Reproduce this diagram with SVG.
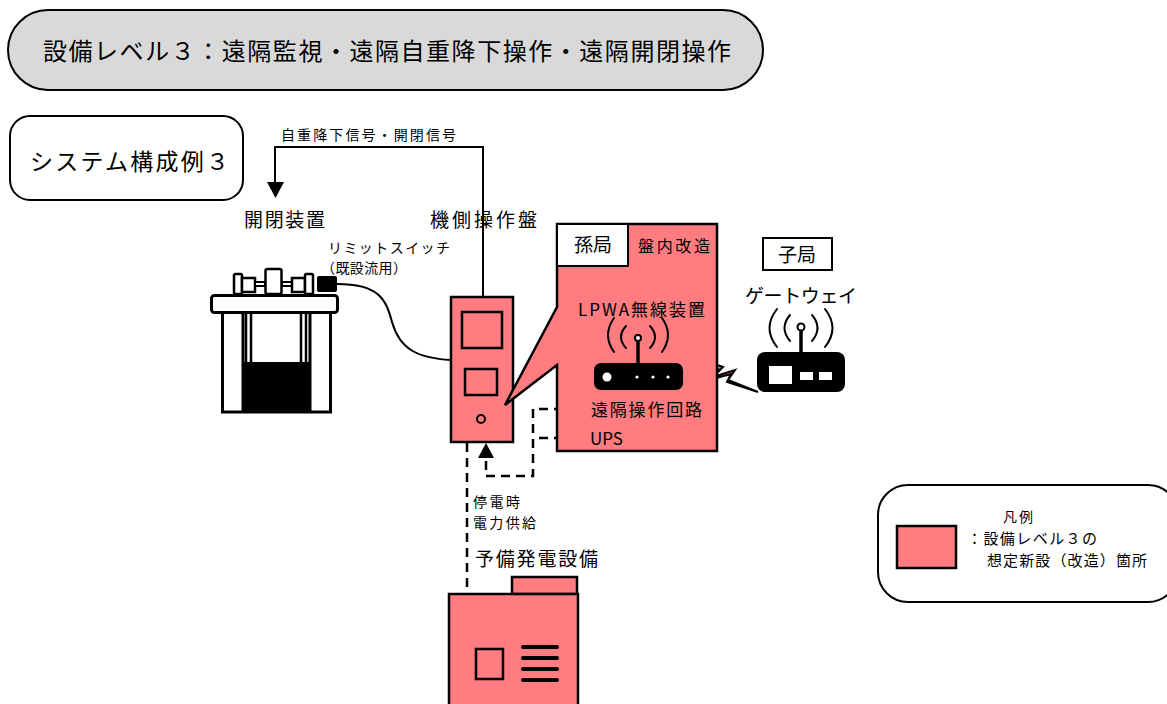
<svg xmlns="http://www.w3.org/2000/svg" width="1167" height="704" viewBox="0 0 1167 704">
  <style>
    text { font-family: "Noto Sans CJK JP", "Noto Sans", sans-serif; fill: #000; }
    .ln { fill: none; stroke: #000; stroke-width: 2; }
    .dash { fill: none; stroke: #000; stroke-width: 2.5; stroke-dasharray: 9 6; }
    .new { fill: #ff7c80; stroke: #000; stroke-width: 2.5; }
    .box { fill: #fff; stroke: #000; stroke-width: 2; }
    .wave { fill: none; stroke: #000; stroke-width: 2; stroke-linecap: round; }
  </style>

  <rect width="1167" height="704" fill="#fff"/>

  <!-- heading -->
  <g id="title">
    <rect x="8" y="10" width="755" height="80" rx="40" fill="#d9d9d9" stroke="#000" stroke-width="2"/>
    <text x="43" y="60" font-size="24" textLength="688" lengthAdjust="spacing">設備レベル３：遠隔監視・遠隔自重降下操作・遠隔開閉操作</text>
  </g>

  <g id="system-label">
    <rect x="10" y="116" width="233" height="84" rx="20" class="box"/>
    <text x="30" y="170" font-size="23" textLength="199" lengthAdjust="spacing">システム構成例３</text>
  </g>

  <!-- connectors -->
  <g id="connectors">
    <path d="M483,297 V147 H275 V182" class="ln"/>
    <path d="M267,182 L284,182 L275.5,198 Z" fill="#000"/>
    <text x="281" y="140" font-size="14" textLength="175" lengthAdjust="spacing">自重降下信号・開閉信号</text>

    <!-- limit switch cable -->
    <path d="M337,284 C380,284 386,300 392,322 C400,350 418,358 451,360" class="ln"/>

    <!-- remote control / UPS lines -->
    <path d="M578,409 H533 V476 H486 V458" class="dash"/>
    <path d="M578,438 H533" class="dash"/>
    <path d="M478,458 L494,458 L486,443 Z" fill="#000"/>

    <!-- backup power -->
    <path d="M467,443 V594" class="dash"/>

    <!-- radio link -->
    <polygon points="685,354 723,367 713,377 735,370 728,380 758,392 727,382 731,374 709,380 718,369" fill="#ff7c80" stroke="#000" stroke-width="2" stroke-linejoin="miter"/>
  </g>

  <!-- gate -->
  <g id="gate">
    <text x="244" y="227" font-size="19" textLength="81" lengthAdjust="spacing">開閉装置</text>
    <text x="328" y="253" font-size="14" textLength="122" lengthAdjust="spacing">リミットスイッチ</text>
    <text x="321" y="273" font-size="14" textLength="86" lengthAdjust="spacing">（既設流用）</text>
    <!-- frame -->
    <rect x="222.5" y="312" width="108" height="100" fill="#fff" stroke="#000" stroke-width="3"/>
    <line x1="243" y1="312" x2="243" y2="412" stroke="#000" stroke-width="3"/>
    <line x1="310" y1="312" x2="310" y2="412" stroke="#000" stroke-width="3"/>
    <rect x="246" y="312" width="5" height="52" fill="#fff" stroke="#000" stroke-width="2.5"/>
    <rect x="301" y="312" width="5" height="52" fill="#fff" stroke="#000" stroke-width="2.5"/>
    <rect x="243" y="362" width="67" height="50" fill="#000"/>
    <!-- head plate -->
    <rect x="211.5" y="295.5" width="126" height="17" rx="3" fill="#fff" stroke="#000" stroke-width="3"/>
    <!-- hoist -->
    <rect x="234" y="274" width="8" height="20" rx="1.5" fill="#fff" stroke="#000" stroke-width="2.5"/>
    <rect x="242" y="278" width="13" height="14" fill="#fff" stroke="#000" stroke-width="2.5"/>
    <rect x="255" y="282" width="10" height="4" fill="#fff" stroke="#000" stroke-width="2"/>
    <rect x="265.5" y="269" width="16" height="25" rx="2" fill="#fff" stroke="#000" stroke-width="2.5"/>
    <rect x="282" y="282" width="10" height="4" fill="#fff" stroke="#000" stroke-width="2"/>
    <rect x="292" y="278" width="13" height="14" fill="#fff" stroke="#000" stroke-width="2.5"/>
    <rect x="305" y="274" width="8" height="20" rx="1.5" fill="#fff" stroke="#000" stroke-width="2.5"/>
    <!-- limit switch -->
    <rect x="317" y="276" width="20" height="16" rx="2" fill="#000"/>
  </g>

  <!-- local control panel -->
  <g id="panel">
    <text x="430" y="227" font-size="19" textLength="107" lengthAdjust="spacing">機側操作盤</text>
    <rect x="451" y="297" width="62" height="145" class="new"/>
    <rect x="462" y="312" width="40" height="36" fill="none" stroke="#000" stroke-width="2.5"/>
    <rect x="465" y="369" width="32" height="26" fill="none" stroke="#000" stroke-width="2.5"/>
    <circle cx="481" cy="419" r="4" fill="none" stroke="#000" stroke-width="2"/>
  </g>

  <!-- sub station (LPWA) -->
  <g id="sub-station">
    <path d="M557,224 H717 V451 H557 V365 L505,405 L557,307 Z" class="new" stroke-linejoin="miter"/>
    <rect x="557" y="224" width="71" height="42" class="box" stroke-width="2.5"/>
    <text x="574" y="252" font-size="19">孫局</text>
    <text x="638" y="252" font-size="16" textLength="72" lengthAdjust="spacing">盤内改造</text>
    <text x="578" y="316" font-size="17" textLength="127" lengthAdjust="spacing">LPWA無線装置</text>
    <!-- radio unit -->
    <path d="M614,318 Q602,335 614,352" class="wave"/>
    <path d="M626,326 Q616,337 626,348" class="wave"/>
    <path d="M662,318 Q674,335 662,352" class="wave"/>
    <path d="M650,326 Q660,337 650,348" class="wave"/>
    <line x1="638" y1="340" x2="638" y2="364" stroke="#000" stroke-width="3.5"/>
    <circle cx="638" cy="338" r="3" fill="#fff" stroke="#000" stroke-width="2"/>
    <rect x="594" y="363" width="89" height="27" rx="7" fill="#000"/>
    <circle cx="607" cy="377" r="4.5" fill="#fff"/>
    <circle cx="637" cy="377" r="1.6" fill="#fff"/>
    <circle cx="653" cy="377" r="1.6" fill="#fff"/>
    <circle cx="668" cy="377" r="1.6" fill="#fff"/>
    <text x="591" y="416" font-size="17" textLength="111" lengthAdjust="spacing">遠隔操作回路</text>
    <text x="590" y="445" font-size="17">UPS</text>
  </g>

  <!-- gateway -->
  <g id="gateway">
    <rect x="763" y="238" width="69" height="32" class="box"/>
    <text x="778" y="262" font-size="19">子局</text>
    <text x="745" y="303" font-size="19" textLength="112" lengthAdjust="spacing">ゲートウェイ</text>
    <path d="M777,309 Q762,328 777,347" class="wave"/>
    <path d="M790,315 Q779,328 790,341" class="wave"/>
    <path d="M825,309 Q840,328 825,347" class="wave"/>
    <path d="M812,315 Q823,328 812,341" class="wave"/>
    <line x1="801" y1="330" x2="801" y2="353" stroke="#000" stroke-width="3.5"/>
    <circle cx="801" cy="327" r="3.5" fill="#fff" stroke="#000" stroke-width="2"/>
    <rect x="757" y="352" width="88" height="40" rx="8" fill="#000"/>
    <rect x="769" y="366" width="23" height="18" fill="#fff"/>
    <rect x="800" y="372" width="13" height="8" fill="#fff"/>
    <rect x="819" y="372" width="13" height="8" fill="#fff"/>
  </g>

  <!-- backup generator -->
  <g id="generator">
    <text x="473" y="507" font-size="14" textLength="47" lengthAdjust="spacing">停電時</text>
    <text x="473" y="528" font-size="14" textLength="63" lengthAdjust="spacing">電力供給</text>
    <text x="475" y="566" font-size="19" textLength="123" lengthAdjust="spacing">予備発電設備</text>
    <rect x="512" y="577" width="65" height="17" class="new"/>
    <rect x="449" y="594" width="129" height="120" class="new"/>
    <rect x="476" y="649" width="27" height="30" fill="none" stroke="#000" stroke-width="2.5"/>
    <g stroke="#000" stroke-width="4" stroke-linecap="round">
      <line x1="523" y1="647" x2="557" y2="647"/>
      <line x1="523" y1="658" x2="557" y2="658"/>
      <line x1="523" y1="669" x2="557" y2="669"/>
      <line x1="523" y1="680" x2="557" y2="680"/>
    </g>
  </g>

  <!-- legend -->
  <g id="legend">
    <rect x="878" y="485" width="300" height="117" rx="30" class="box"/>
    <text x="1003" y="522" font-size="14" textLength="30" lengthAdjust="spacing">凡例</text>
    <rect x="897" y="526" width="59" height="42" class="new"/>
    <text x="967" y="544" font-size="15" textLength="130" lengthAdjust="spacing">：設備レベル３の</text>
    <text x="987" y="566" font-size="15" textLength="160" lengthAdjust="spacing">想定新設（改造）箇所</text>
  </g>
</svg>
